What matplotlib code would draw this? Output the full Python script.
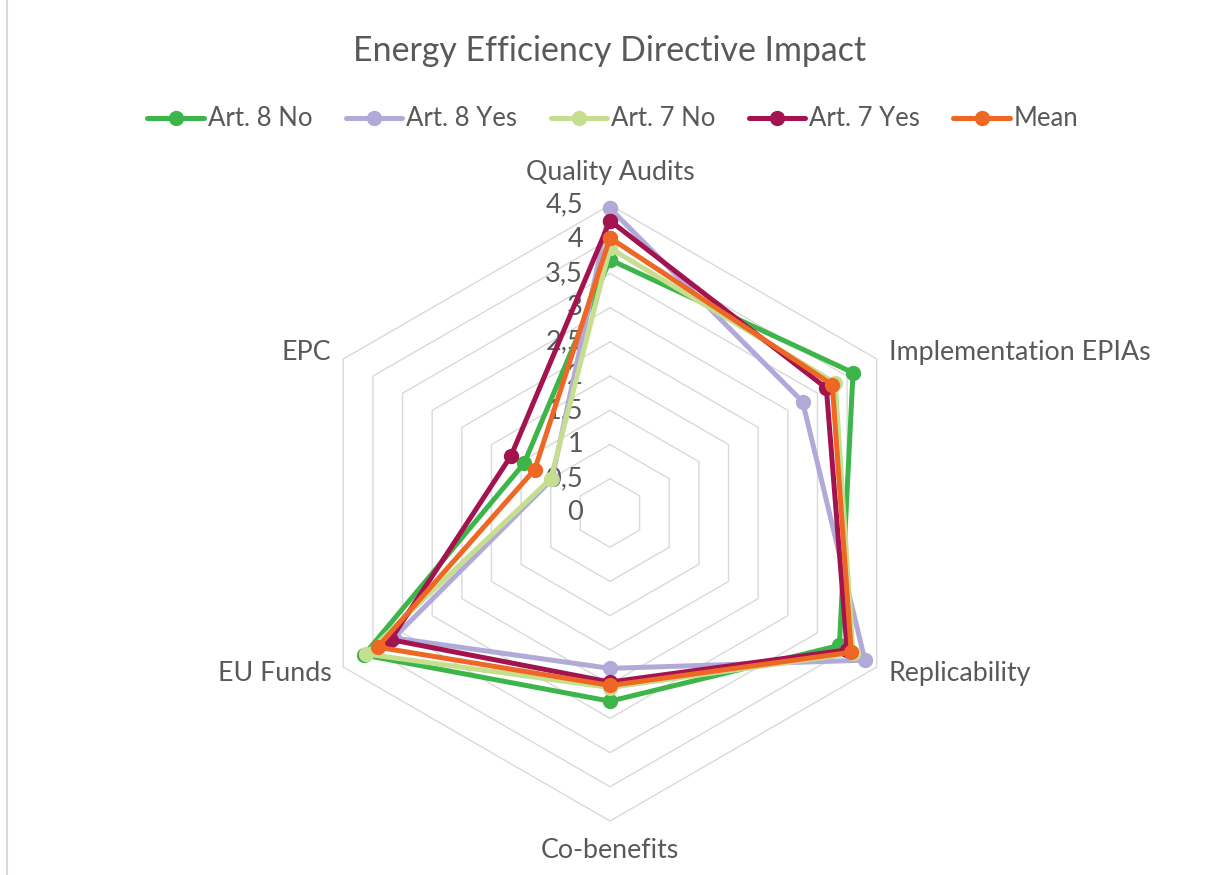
import numpy as np
import matplotlib
matplotlib.use("Agg")
import matplotlib.pyplot as plt
from matplotlib.transforms import offset_copy
from matplotlib.lines import Line2D

categories = ["Quality Audits", "Implementation EPIAs", "Replicability",
              "Co-benefits", "EU Funds", "EPC"]
series_names = ["Art. 8 No", "Art. 8 Yes", "Art. 7 No", "Art. 7 Yes", "Mean"]
art8_no = [3.70, 4.10, 3.87, 2.75, 4.15, 1.45]
art8_yes = [4.45, 3.25, 4.30, 2.27, 3.65, 0.98]
art7_no = [3.87, 3.80, 4.10, 2.55, 4.12, 1.00]
art7_yes = [4.27, 3.65, 4.00, 2.47, 3.70, 1.67]
mean = [4.02, 3.75, 4.07, 2.52, 3.92, 1.27]
colors = ["#3DB54A", "#B1AAD8", "#C6DF8F", "#A3134F", "#EE6725"]
rticks = [0, 0.5, 1, 1.5, 2, 2.5, 3, 3.5, 4, 4.5]
rtick_labels = ["0", "0,5", "1", "1,5", "2", "2,5", "3", "3,5", "4", "4,5"]

FONT = "Lato"
TXT = "#595959"
GRID = "#D9D9D9"

W, H = 1208, 875
fig = plt.figure(figsize=(W / 100, H / 100), dpi=100)
cx, cy, R = 610, 513, 308
ax = fig.add_axes([(cx - R) / W, (H - cy - R) / H, 2 * R / W, 2 * R / H],
                  projection="polar")
ax.set_theta_offset(np.pi / 2)
ax.set_theta_direction(-1)
ax.set_ylim(0, 4.5)
ax.grid(False)
ax.spines["polar"].set_visible(False)
ax.set_xticks([])
ax.set_yticks([])
ax.patch.set_alpha(0)

n = len(categories)
angles = np.arange(n) * 2 * np.pi / n
ang_c = np.concatenate([angles, angles[:1]])

# hexagonal grid rings
for r in rticks[1:]:
    ax.plot(ang_c, [r] * (n + 1), color=GRID, lw=1.0, zorder=1, clip_on=False)

# series
all_series = [art8_no, art8_yes, art7_no, art7_yes, mean]
handles = []
for i, (name, vals, col) in enumerate(zip(series_names, all_series, colors)):
    v = np.concatenate([vals, vals[:1]])
    ax.plot(ang_c, v, color=col, lw=3.6, marker="o", markersize=10,
            zorder=3 + i, clip_on=False, solid_joinstyle="miter")
    handles.append(Line2D([0], [0], color=col, lw=3.6, marker="o",
                          markersize=10, solid_capstyle="round"))

# radial tick labels
tr = offset_copy(ax.transData, fig=fig, x=-27, y=0, units="dots")
for r, lab in zip(rticks, rtick_labels):
    ax.text(0, r, lab, transform=tr, ha="right", va="center",
            fontsize=19.5, color=TXT, family=FONT, zorder=2)

# category labels
label_pos = [(4.98, "center", "center"), (4.70, "left", "center"),
             (4.70, "left", "center"), (4.93, "center", "center"),
             (4.70, "right", "center"), (4.70, "right", "center")]
for a, cat, (r, ha, va) in zip(angles, categories, label_pos):
    ax.text(a, r, cat, ha=ha, va=va, fontsize=19.3, color=TXT, family=FONT)

fig.text(0.5 + 6 / W, 1 - 51 / H, "Energy Efficiency Directive Impact",
         ha="center", va="center", fontsize=24.4, color=TXT, family=FONT)

leg = fig.legend(handles, series_names, loc="center", ncol=5,
                 bbox_to_anchor=(613 / W, 1 - 119 / H), frameon=False,
                 prop={"family": FONT, "size": 18.5}, handlelength=2.2,
                 handletextpad=0.15, columnspacing=1.3, labelcolor=TXT)

fig.add_artist(Line2D([7 / W, 7 / W], [0, 1], color=GRID, lw=1.5,
                      transform=fig.transFigure))

fig.savefig("out.png", dpi=100, facecolor="white")
